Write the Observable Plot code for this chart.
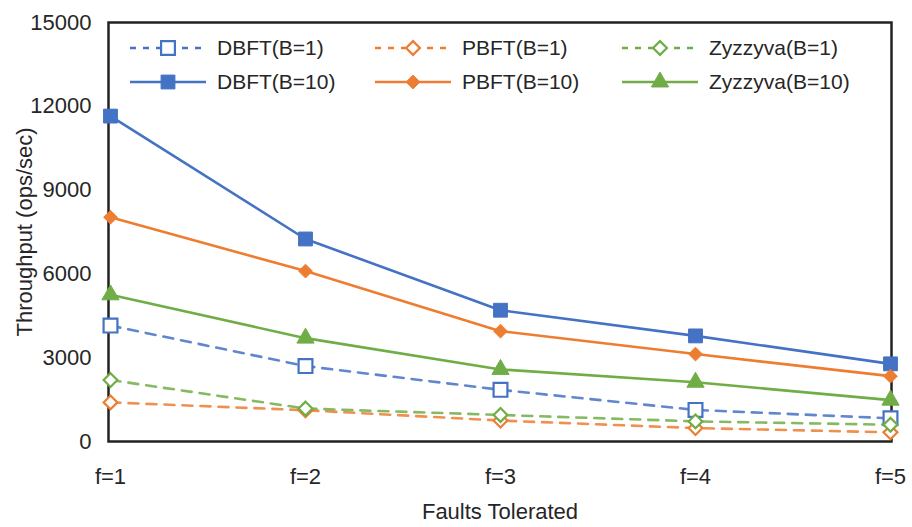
<!DOCTYPE html>
<html>
<head>
<meta charset="utf-8">
<script src="https://cdn.jsdelivr.net/npm/d3@7"></script>
<script src="https://cdn.jsdelivr.net/npm/@observablehq/plot@0.6"></script>
<style>
  html, body { margin: 0; padding: 0; background: #fff; }
  #wrap { position: relative; width: 912px; height: 527px; overflow: hidden; }
  #legend { position: absolute; left: 0; top: 0; width: 912px; height: 110px; pointer-events: none; }
</style>
</head>
<body>
<div id="wrap"></div>
<script>
// ---- data ----
const faults = ["f=1", "f=2", "f=3", "f=4", "f=5"];
const seriesNames = ["DBFT(B=1)", "PBFT(B=1)", "Zyzzyva(B=1)", "DBFT(B=10)", "PBFT(B=10)", "Zyzzyva(B=10)"];
const dbft1 = [4150, 2700, 1850, 1130, 830];
const pbft1 = [1400, 1120, 750, 480, 330];
const zyz1 = [2200, 1180, 950, 720, 600];
const dbft10 = [11650, 7250, 4700, 3780, 2780];
const pbft10 = [8030, 6100, 3950, 3130, 2340];
const zyz10 = [5250, 3700, 2580, 2120, 1480];
const yTicks = [0, 3000, 6000, 9000, 12000, 15000];
const colors = ["#4472C4", "#ED7D31", "#70AD47", "#4472C4", "#ED7D31", "#70AD47"];
const symbols = ["square", "diamond2", "diamond2", "square", "diamond2", "triangle"];
const hollow = [true, true, true, false, false, false];

const values = [dbft1, pbft1, zyz1, dbft10, pbft10, zyz10];
const rows = [];
values.forEach((arr, si) => arr.forEach((v, i) => rows.push({series: seriesNames[si], si, f: faults[i], v})));

const font = '"Liberation Sans", Arial, sans-serif';
const symR = {square: 7.8, diamond2: 6.2, triangle: 6.4};

const marks = [];
seriesNames.forEach((name, si) => {
  const d = rows.filter(r => r.si === si);
  marks.push(Plot.line(d, {
    x: "f", y: "v", stroke: colors[si], strokeWidth: 2.6,
    strokeDasharray: hollow[si] ? "10,8" : null,
    strokeOpacity: hollow[si] ? 0.85 : 1
  }));
});
marks.push(Plot.frame({stroke: "#222", strokeWidth: 2.5}));
seriesNames.forEach((name, si) => {
  const d = rows.filter(r => r.si === si);
  marks.push(Plot.dot(d, {
    x: "f", y: "v", symbol: () => symbols[si],
    r: symR[symbols[si]],
    fill: hollow[si] ? "white" : colors[si],
    stroke: colors[si], strokeWidth: hollow[si] ? 2.2 : 1
  }));
});

const chart = Plot.plot({
  width: 912,
  height: 527,
  marginLeft: 108,
  marginRight: 21,
  marginTop: 22,
  marginBottom: 86,
  style: {fontFamily: font, fontSize: "22px", color: "#262626", background: "white"},
  symbol: {type: "identity"},
  x: {type: "point", domain: faults, padding: 0, label: "Faults Tolerated", labelAnchor: "center", labelOffset: 77, tickSize: 0, tickPadding: 27},
  y: {domain: [0, 15000], ticks: yTicks, tickFormat: d => String(d), label: "Throughput (ops/sec)", labelAnchor: "center", labelOffset: 92, labelArrow: "none", tickSize: 0, tickPadding: 17},
  marks: marks
});
document.getElementById("wrap").appendChild(chart);

// legend overlay (inside plot frame)
const legendItems = [
  {si: 0, col: 0, row: 0}, {si: 1, col: 1, row: 0}, {si: 2, col: 2, row: 0},
  {si: 3, col: 0, row: 1}, {si: 4, col: 1, row: 1}, {si: 5, col: 2, row: 1}
];
const colX = [130, 375, 622];
const rowY = [48, 82];
const lg = d3.select("#wrap").append("svg").attr("id", "legend").attr("width", 912).attr("height", 110);
const symMap = {square: d3.symbolSquare, diamond2: d3.symbolDiamond2, triangle: d3.symbolTriangle};
legendItems.forEach(it => {
  const x0 = colX[it.col], y0 = rowY[it.row], si = it.si;
  lg.append("line").attr("x1", x0).attr("x2", x0 + 76).attr("y1", y0).attr("y2", y0)
    .attr("stroke", colors[si]).attr("stroke-width", 2.6)
    .attr("stroke-dasharray", hollow[si] ? "6,7" : null);
  const r = symR[symbols[si]];
  lg.append("path").attr("d", d3.symbol(symMap[symbols[si]], Math.PI * r * r)())
    .attr("transform", `translate(${x0 + 38},${y0})`)
    .attr("fill", hollow[si] ? "white" : colors[si]).attr("stroke", colors[si]).attr("stroke-width", hollow[si] ? 2.2 : 1);
  lg.append("text").attr("x", x0 + 87).attr("y", y0).attr("dy", "0.35em")
    .attr("font-size", 21).attr("fill", "#262626").style("font-family", font)
    .text(seriesNames[si]);
});
</script>
</body>
</html>
